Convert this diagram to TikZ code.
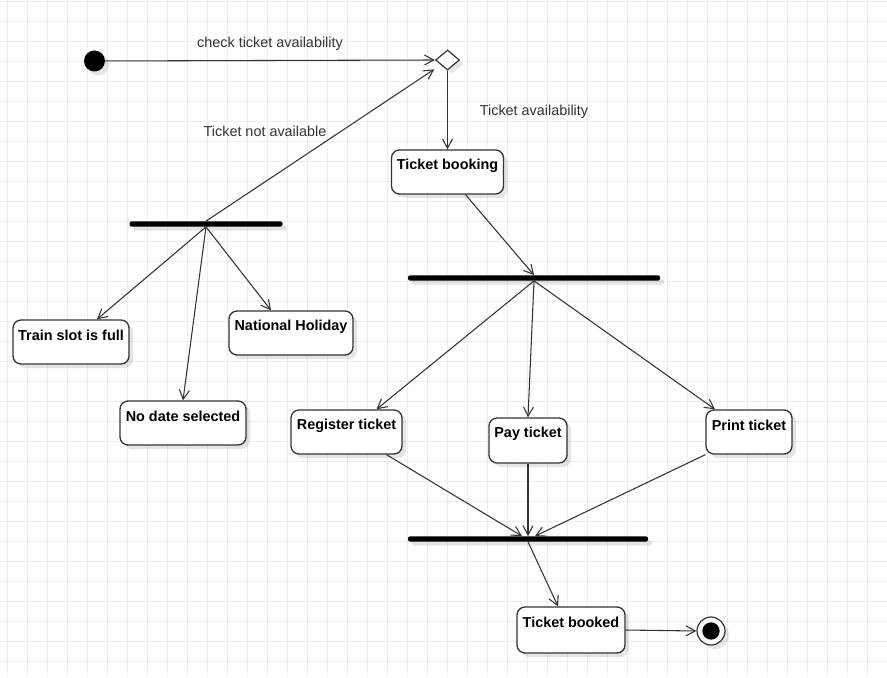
\documentclass[tikz,border=0pt]{standalone}
\usepackage{fontspec}
\setmainfont{Liberation Sans}
\usetikzlibrary{arrows.meta,shapes.geometric,shadows,calc}
\definecolor{gridc}{HTML}{EDEDED}
\definecolor{edgec}{HTML}{333333}
\begin{document}
\begin{tikzpicture}[x=0.75pt,y=-0.75pt,
  shd/.style={drop shadow={shadow xshift=3pt,shadow yshift=-3pt,fill=black,opacity=0.10}},
  box/.style 2 args={draw=edgec,line width=1pt,fill=white,rounded corners=6pt,shd,
     minimum width=#1*0.75pt,minimum height=#2*0.75pt,inner sep=0pt},
  btxt/.style={anchor=center,yshift=-12pt,font=\fontsize{10.8}{12}\selectfont\bfseries,text=black,inner sep=0pt},
  bar/.style={fill=black,draw=none,rounded corners=1.5pt,inner sep=0pt,minimum height=3.9pt,minimum width=#1*0.75pt,shd},
  arr/.style={draw=edgec,line width=0.8pt,-{Straight Barb[length=7pt,width=7.5pt,line width=0.8pt]}},
  elab/.style={font=\fontsize{10.8}{12}\selectfont,text=edgec,inner sep=0pt}]
\useasboundingbox (0,0) rectangle (887,677);
\fill[white] (0,0) rectangle (887,677);
% grid
\foreach \x in {7.5,27.5,...,887} \draw[gridc,line width=0.75pt] (\x,0) -- (\x,677);
\foreach \y in {1.7,21.7,...,677} \draw[gridc,line width=0.75pt] (0,\y) -- (887,\y);

% nodes
\node[circle,fill=black,inner sep=0pt,minimum size=15.75pt,shd] (init) at (94.5,61) {};
\node[diamond,draw=edgec,fill=white,line width=0.9pt,inner sep=0pt,minimum width=18pt,minimum height=15pt,shd] (dia) at (447.5,60) {};
\node[box={112}{44}, label={[btxt]north:Ticket booking}] (tb) at (447.5,172) {};
\node[bar=153] (bar1) at (206,224) {};
\node[bar=252] (bar2) at (534,278) {};
\node[bar=240] (bar3) at (528,539) {};
\node[box={116}{44}, label={[btxt]north:Train slot is full}] (train) at (71,342) {};
\node[box={126}{44}, label={[btxt]north:No date selected}] (nodate) at (183,423) {};
\node[box={124}{44}, label={[btxt]north:National Holiday}] (natl) at (291,333) {};
\node[box={111}{44}, label={[btxt]north:Register ticket}] (reg) at (346.5,432) {};
\node[box={78}{45}, label={[btxt]north:Pay ticket}] (pay) at (528,440.5) {};
\node[box={86}{44}, label={[btxt]north:Print ticket}] (print) at (749,432) {};
\node[box={108}{46}, label={[btxt]north:Ticket booked}] (booked) at (571,630) {};
\node[circle,draw=edgec,fill=white,line width=0.9pt,inner sep=0pt,minimum size=21pt,shd] (final) at (711,631) {};
\node[circle,fill=black,inner sep=0pt,minimum size=13pt] (finalin) at (final.center) {};

% labels
\node[elab] (l1) at (270,43.5) {check ticket availability};
\node[elab] (l2) at (534,111.5) {Ticket availability};
\node[elab] (l3) at (265,131.5) {Ticket not available};

% edges
\draw[arr] (init) -- (dia.west);
\draw[arr] (dia.south) -- (tb.north);
\draw[arr] ([xshift=13.5pt]tb.south) -- (bar2.north);
\draw[arr] (bar1.north) -- ([shift={(-7,4)}]dia.south west);
\draw[arr] (bar1.south) -- ([xshift=19.5pt]train.north);
\draw[arr] (bar1.south) -- (nodate.north);
\draw[arr] (bar1.south) -- ([xshift=-15pt]natl.north);
\draw[arr] (bar2.south) -- ([xshift=22.5pt]reg.north);
\draw[arr] (bar2.south) -- (pay.north);
\draw[arr] (bar2.south) -- ([xshift=-25.5pt]print.north);
\draw[arr] ([xshift=30pt]reg.south) -- ([xshift=-4.5pt]bar3.north);
\draw[arr] (pay.south) -- (bar3.north);
\draw[arr] (print.south west) -- ([xshift=5.25pt]bar3.north);
\draw[arr] (bar3.south) -- ([xshift=-9.75pt]booked.north);
\draw[arr] (booked.east) -- (final.west);
\end{tikzpicture}
\end{document}
